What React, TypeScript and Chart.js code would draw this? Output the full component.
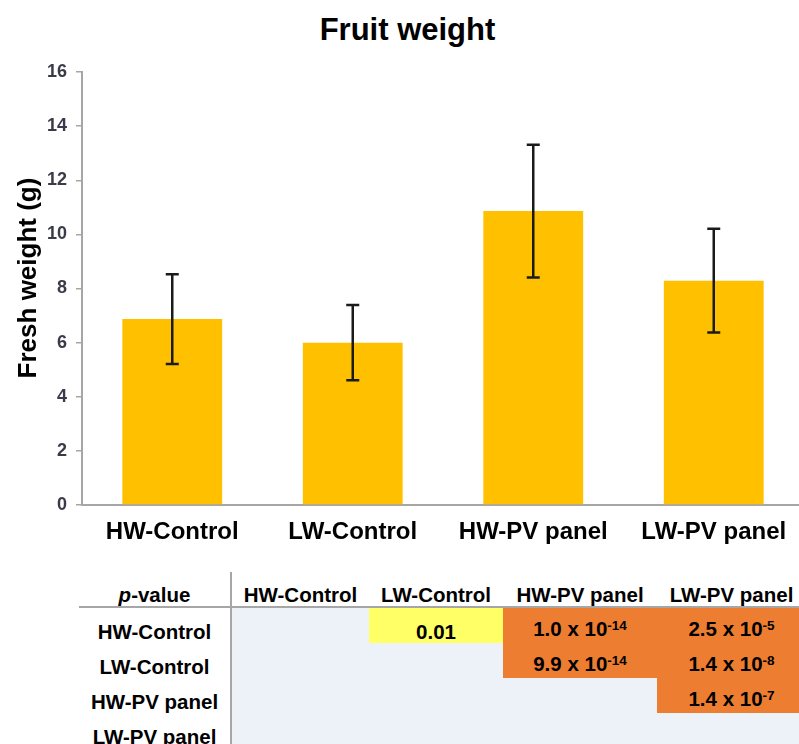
import React, { useEffect, useRef } from 'react';
import { Chart, registerables } from 'chart.js';

Chart.register(...registerables);

// ---- data ----
const chartTitle = 'Fruit weight';
const yAxisTitle = 'Fresh weight (g)';
const groups = ['HW-Control', 'LW-Control', 'HW-PV panel', 'LW-PV panel'];
const meanWeights = [6.87, 6.0, 10.86, 8.29];
const errorWeights = [1.66, 1.39, 2.45, 1.92];
const yMin = 0;
const yMax = 16;
const yStep = 2;

const tableCorner = 'p-value';
const pValues: (string | null)[][] = [
  [null, '0.01', '1.0 x 10^-14', '2.5 x 10^-5'],
  [null, null, '9.9 x 10^-14', '1.4 x 10^-8'],
  [null, null, null, '1.4 x 10^-7'],
  [null, null, null, null],
];
// 0 = not shown, 1 = p < 0.05, 2 = p < 0.001
const pLevels = [
  [0, 1, 2, 2],
  [0, 0, 2, 2],
  [0, 0, 0, 2],
  [0, 0, 0, 0],
];

// ---- styles ----
const FONT = "'Liberation Sans', Arial, Helvetica, sans-serif";
const BAR_COLOR = '#FFC000';
const AXIS_COLOR = '#A6A6A6';
const LEVEL_BG = ['#EDF1F8', '#FFFF66', '#ED7D31'];
const COL_WIDTHS = [153, 137, 134, 154, 149];

function renderP(v: string | null) {
  if (!v) return null;
  const parts = v.split('^');
  if (parts.length === 1) return <span>{v}</span>;
  return (
    <span>
      {parts[0]}
      <span style={{ fontSize: 13.5, position: 'relative', top: -6 }}>{parts[1]}</span>
    </span>
  );
}

export default function App() {
  const ref = useRef<HTMLCanvasElement | null>(null);

  useEffect(() => {
    if (!ref.current) return;
    const errorBars = {
      id: 'errorBars',
      afterDatasetsDraw(chart: any) {
        const ctx = chart.ctx;
        const meta = chart.getDatasetMeta(0);
        const ys = chart.scales.y;
        ctx.save();
        ctx.strokeStyle = '#1a1a1a';
        ctx.lineWidth = 2.5;
        meta.data.forEach((bar: any, i: number) => {
          const x = bar.x;
          const top = ys.getPixelForValue(meanWeights[i] + errorWeights[i]);
          const bot = ys.getPixelForValue(meanWeights[i] - errorWeights[i]);
          const cap = 6.5;
          ctx.beginPath();
          ctx.moveTo(x, top);
          ctx.lineTo(x, bot);
          ctx.moveTo(x - cap, top);
          ctx.lineTo(x + cap, top);
          ctx.moveTo(x - cap, bot);
          ctx.lineTo(x + cap, bot);
          ctx.stroke();
        });
        ctx.restore();
      },
    };

    const chart = new Chart(ref.current, {
      type: 'bar',
      data: {
        labels: groups,
        datasets: [
          {
            data: meanWeights,
            backgroundColor: BAR_COLOR,
            borderWidth: 0,
            categoryPercentage: 1,
            barPercentage: 0.553,
          },
        ],
      },
      options: {
        responsive: false,
        animation: false,
        devicePixelRatio: 1,
        layout: { padding: { top: 72, left: 0, right: 0, bottom: 0 } },
        plugins: {
          legend: { display: false },
          tooltip: { enabled: false },
          title: { display: false },
        },
        scales: {
          x: {
            grid: { display: false, drawTicks: false },
            border: { display: true, color: AXIS_COLOR, width: 2 },
            ticks: {
              color: '#000',
              font: { family: FONT, size: 24, weight: 'bold' },
              padding: 13,
              maxRotation: 0,
              autoSkip: false,
            },
            afterFit: (s: any) => {
              s.height = 40;
            },
          },
          y: {
            min: yMin,
            max: yMax,
            ticks: {
              stepSize: yStep,
              color: '#3a3a4a',
              font: { family: FONT, size: 18, weight: 'bold' },
              padding: 9,
            },
            grid: {
              drawOnChartArea: false,
              drawTicks: true,
              tickLength: 6,
              color: AXIS_COLOR,
              lineWidth: 1.5,
            },
            border: { display: true, color: AXIS_COLOR, width: 2 },
            title: { display: false },
            afterFit: (s: any) => {
              s.width = 82;
            },
          },
        },
      },
      plugins: [errorBars],
    } as any);
    return () => chart.destroy();
  }, []);

  const cellBase: React.CSSProperties = {
    boxSizing: 'border-box',
    display: 'flex',
    alignItems: 'flex-end',
    justifyContent: 'center',
    lineHeight: '20px',
    paddingBottom: 1,
    whiteSpace: 'nowrap',
  };

  return (
    <div
      style={{
        position: 'fixed',
        left: 0,
        top: 0,
        width: 799,
        height: 744,
        overflow: 'hidden',
        background: '#fff',
        fontFamily: FONT,
      }}
    >
      <div
        style={{
          position: 'absolute',
          left: 0,
          top: 12,
          width: 815,
          textAlign: 'center',
          fontWeight: 'bold',
          fontSize: 31,
          lineHeight: '36px',
          color: '#000',
        }}
      >
        {chartTitle}
      </div>
      <canvas ref={ref} width={804} height={545} style={{ position: 'absolute', left: 0, top: 0 }} />
      <div
        style={{
          position: 'absolute',
          left: 27 - 150,
          top: 278 - 15,
          width: 300,
          height: 30,
          lineHeight: '30px',
          textAlign: 'center',
          fontWeight: 'bold',
          fontSize: 26,
          color: '#000',
          whiteSpace: 'nowrap',
          transform: 'rotate(-90deg)',
          transformOrigin: '50% 50%',
        }}
      >
        {yAxisTitle}
      </div>
      <div
        style={{
          position: 'absolute',
          left: 79,
          top: 572,
          display: 'grid',
          gridTemplateColumns: COL_WIDTHS.map((w) => w + 'px').join(' '),
          gridTemplateRows: '36px 35px 35px 35px 35px',
          fontWeight: 'bold',
          fontSize: 20.5,
          color: '#000',
        }}
      >
        <div
          style={{
            ...cellBase,
            borderBottom: `2px solid ${AXIS_COLOR}`,
            borderRight: `2px solid ${AXIS_COLOR}`,
          }}
        >
          <span>
            <i>{tableCorner.slice(0, 1)}</i>
            {tableCorner.slice(1)}
          </span>
        </div>
        {groups.map((g) => (
          <div key={'h' + g} style={{ ...cellBase, borderBottom: `2px solid ${AXIS_COLOR}` }}>
            {g}
          </div>
        ))}
        {groups.map((rowLabel, r) => (
          <React.Fragment key={'r' + r}>
            <div style={{ ...cellBase, borderRight: `2px solid ${AXIS_COLOR}` }}>{rowLabel}</div>
            {pValues[r].map((v, c) => (
              <div key={'c' + r + c} style={{ ...cellBase, background: LEVEL_BG[pLevels[r][c]] }}>
                {renderP(v)}
              </div>
            ))}
          </React.Fragment>
        ))}
      </div>
    </div>
  );
}
